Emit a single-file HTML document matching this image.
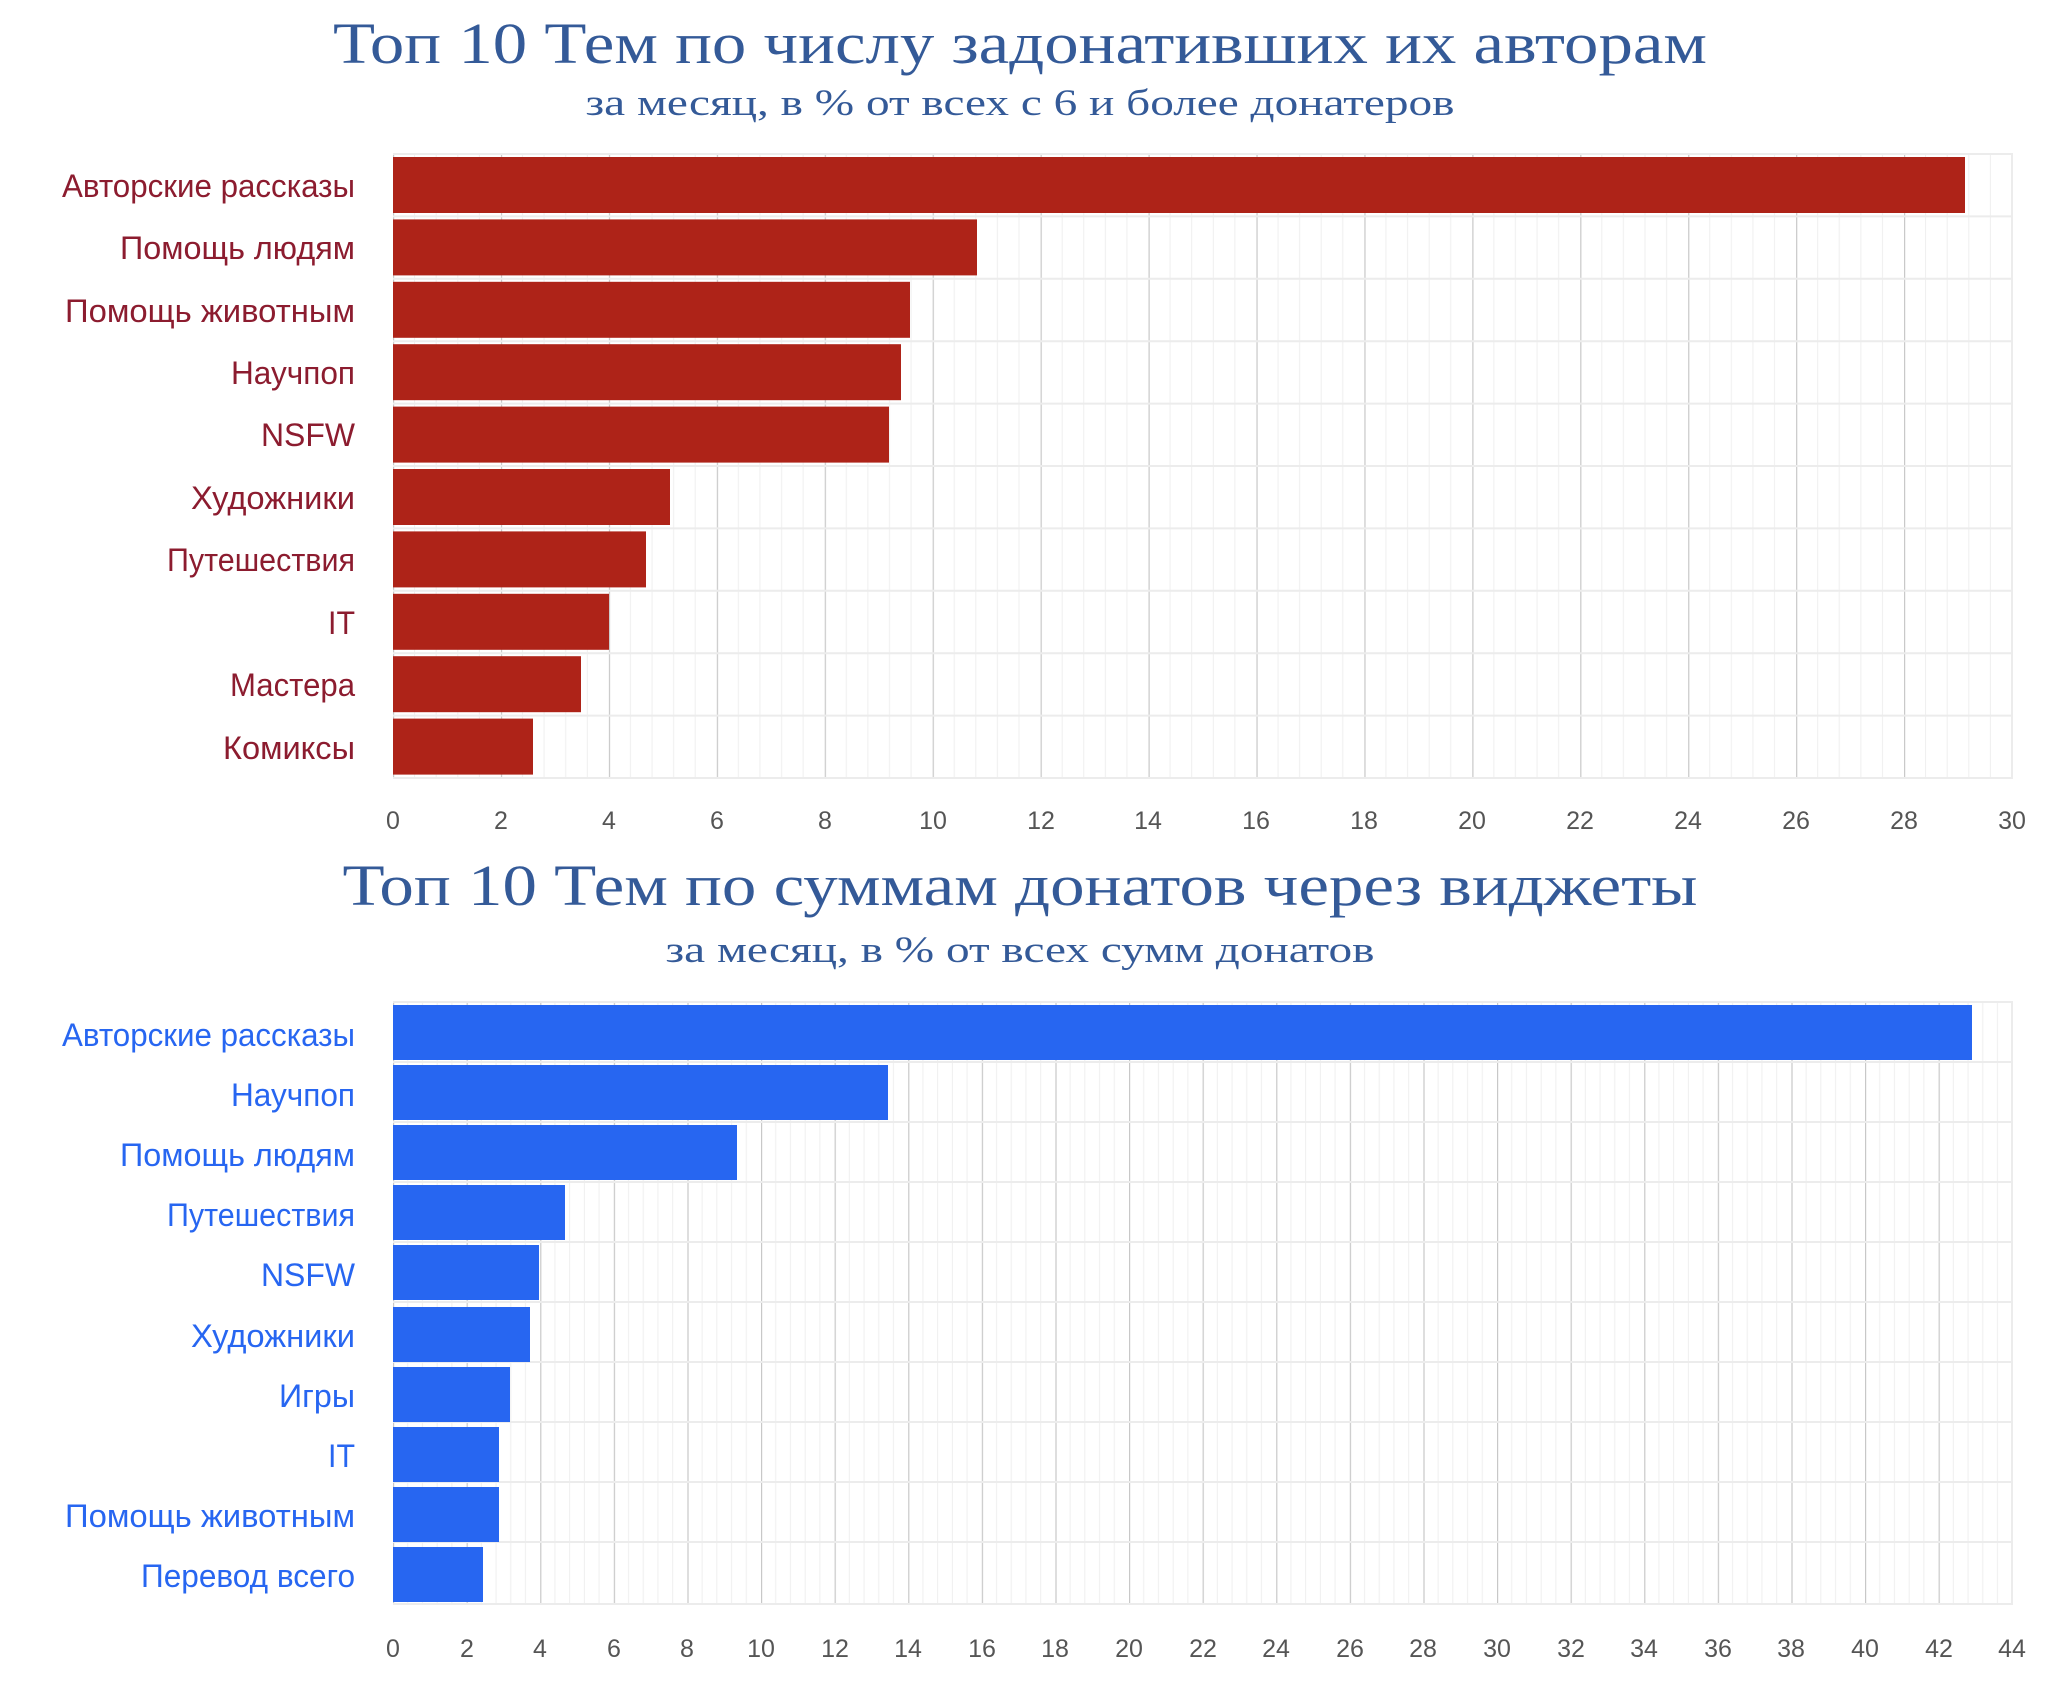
<!DOCTYPE html>
<html><head><meta charset="utf-8"><style>
html,body{margin:0;padding:0;background:#fff;}
svg{display:block}
.t{font-family:"Liberation Serif",serif;fill:#345a98}
.l{font-family:"Liberation Sans",sans-serif;font-size:32px}
.k{font-family:"Liberation Sans",sans-serif;font-size:25px;fill:#555}
</style></head><body>
<svg width="2048" height="1687" viewBox="0 0 2048 1687" xmlns="http://www.w3.org/2000/svg">
<defs>
<pattern id="g1" x="393" y="0" width="107.93" height="62.4" patternUnits="userSpaceOnUse">
<line x1="21.59" y1="0" x2="21.59" y2="62.4" stroke="#efefef" stroke-width="1"/>
<line x1="43.17" y1="0" x2="43.17" y2="62.4" stroke="#efefef" stroke-width="1"/>
<line x1="64.76" y1="0" x2="64.76" y2="62.4" stroke="#efefef" stroke-width="1"/>
<line x1="86.35" y1="0" x2="86.35" y2="62.4" stroke="#efefef" stroke-width="1"/>
<line x1="0.5" y1="0" x2="0.5" y2="62.4" stroke="#c8c8c8" stroke-width="1.4"/>
</pattern>
<pattern id="g2" x="393" y="0" width="73.6" height="60" patternUnits="userSpaceOnUse">
<line x1="14.72" y1="0" x2="14.72" y2="60" stroke="#efefef" stroke-width="1"/>
<line x1="29.44" y1="0" x2="29.44" y2="60" stroke="#efefef" stroke-width="1"/>
<line x1="44.16" y1="0" x2="44.16" y2="60" stroke="#efefef" stroke-width="1"/>
<line x1="58.88" y1="0" x2="58.88" y2="60" stroke="#efefef" stroke-width="1"/>
<line x1="0.5" y1="0" x2="0.5" y2="60" stroke="#c8c8c8" stroke-width="1.4"/>
</pattern>
</defs>

<text class="t" x="1020" y="63" font-size="58" text-anchor="middle" textLength="1374" lengthAdjust="spacingAndGlyphs">Топ 10 Тем по числу задонативших их авторам</text>
<text class="t" x="1020" y="115" font-size="37" text-anchor="middle" textLength="869" lengthAdjust="spacingAndGlyphs">за месяц, в % от всех с 6 и более донатеров</text>

<rect x="393" y="154" width="1620" height="624" fill="url(#g1)"/>
<g stroke="#ececec" stroke-width="2">
<line x1="393" y1="154" x2="2013" y2="154"/><line x1="393" y1="216.4" x2="2013" y2="216.4"/><line x1="393" y1="278.8" x2="2013" y2="278.8"/><line x1="393" y1="341.2" x2="2013" y2="341.2"/><line x1="393" y1="403.6" x2="2013" y2="403.6"/><line x1="393" y1="466" x2="2013" y2="466"/><line x1="393" y1="528.4" x2="2013" y2="528.4"/><line x1="393" y1="590.8" x2="2013" y2="590.8"/><line x1="393" y1="653.2" x2="2013" y2="653.2"/><line x1="393" y1="715.6" x2="2013" y2="715.6"/><line x1="393" y1="778" x2="2013" y2="778"/>
<line x1="2012" y1="154" x2="2012" y2="778"/>
</g>
<g fill="#ae2318">
<rect x="393" y="157" width="1572" height="56"/>
<rect x="393" y="219.4" width="584" height="56"/>
<rect x="393" y="281.8" width="517" height="56"/>
<rect x="393" y="344.2" width="508" height="56"/>
<rect x="393" y="406.6" width="496" height="56"/>
<rect x="393" y="469" width="277" height="56"/>
<rect x="393" y="531.4" width="253" height="56"/>
<rect x="393" y="593.8" width="216" height="56"/>
<rect x="393" y="656.2" width="188" height="56"/>
<rect x="393" y="718.6" width="140" height="56"/>
</g>
<g class="l" fill="#8c1c2f" text-anchor="end">
<text x="355" y="197" textLength="293" lengthAdjust="spacingAndGlyphs">Авторские рассказы</text>
<text x="355" y="259" textLength="235" lengthAdjust="spacingAndGlyphs">Помощь людям</text>
<text x="355" y="322" textLength="290" lengthAdjust="spacingAndGlyphs">Помощь животным</text>
<text x="355" y="384" textLength="124" lengthAdjust="spacingAndGlyphs">Научпоп</text>
<text x="355" y="446" textLength="94" lengthAdjust="spacingAndGlyphs">NSFW</text>
<text x="355" y="509" textLength="164" lengthAdjust="spacingAndGlyphs">Художники</text>
<text x="355" y="571" textLength="188" lengthAdjust="spacingAndGlyphs">Путешествия</text>
<text x="355" y="634" textLength="27" lengthAdjust="spacingAndGlyphs">IT</text>
<text x="355" y="696" textLength="125" lengthAdjust="spacingAndGlyphs">Мастера</text>
<text x="355" y="759" textLength="132" lengthAdjust="spacingAndGlyphs">Комиксы</text>
</g>
<g class="k" text-anchor="middle">
<text x="393" y="829">0</text><text x="501" y="829">2</text><text x="609" y="829">4</text><text x="717" y="829">6</text><text x="825" y="829">8</text><text x="933" y="829">10</text><text x="1041" y="829">12</text><text x="1148" y="829">14</text><text x="1256" y="829">16</text><text x="1364" y="829">18</text><text x="1472" y="829">20</text><text x="1580" y="829">22</text><text x="1688" y="829">24</text><text x="1796" y="829">26</text><text x="1904" y="829">28</text><text x="2012" y="829">30</text>
</g>

<text class="t" x="1020" y="905" font-size="58" text-anchor="middle" textLength="1355" lengthAdjust="spacingAndGlyphs">Топ 10 Тем по суммам донатов через виджеты</text>
<text class="t" x="1020" y="962" font-size="37" text-anchor="middle" textLength="709" lengthAdjust="spacingAndGlyphs">за месяц, в % от всех сумм донатов</text>

<rect x="393" y="1002" width="1620" height="603" fill="url(#g2)"/>
<g stroke="#ececec" stroke-width="2">
<line x1="393" y1="1002" x2="2013" y2="1002"/><line x1="393" y1="1062" x2="2013" y2="1062"/><line x1="393" y1="1122" x2="2013" y2="1122"/><line x1="393" y1="1182" x2="2013" y2="1182"/><line x1="393" y1="1242" x2="2013" y2="1242"/><line x1="393" y1="1302" x2="2013" y2="1302"/><line x1="393" y1="1362" x2="2013" y2="1362"/><line x1="393" y1="1422" x2="2013" y2="1422"/><line x1="393" y1="1482" x2="2013" y2="1482"/><line x1="393" y1="1542" x2="2013" y2="1542"/><line x1="393" y1="1604" x2="2013" y2="1604"/>
<line x1="2012" y1="1002" x2="2012" y2="1605"/>
</g>
<g fill="#2766f1">
<rect x="393" y="1005" width="1579" height="55"/>
<rect x="393" y="1065" width="495" height="55"/>
<rect x="393" y="1125" width="344" height="55"/>
<rect x="393" y="1185" width="172" height="55"/>
<rect x="393" y="1245" width="146" height="55"/>
<rect x="393" y="1307" width="137" height="55"/>
<rect x="393" y="1367" width="117" height="55"/>
<rect x="393" y="1427" width="106" height="55"/>
<rect x="393" y="1487" width="106" height="55"/>
<rect x="393" y="1547" width="90" height="55"/>
</g>
<g class="l" fill="#2766f1" text-anchor="end">
<text x="355" y="1046" textLength="293" lengthAdjust="spacingAndGlyphs">Авторские рассказы</text>
<text x="355" y="1106" textLength="124" lengthAdjust="spacingAndGlyphs">Научпоп</text>
<text x="355" y="1166" textLength="235" lengthAdjust="spacingAndGlyphs">Помощь людям</text>
<text x="355" y="1226" textLength="188" lengthAdjust="spacingAndGlyphs">Путешествия</text>
<text x="355" y="1286" textLength="94" lengthAdjust="spacingAndGlyphs">NSFW</text>
<text x="355" y="1347" textLength="164" lengthAdjust="spacingAndGlyphs">Художники</text>
<text x="355" y="1407" textLength="76" lengthAdjust="spacingAndGlyphs">Игры</text>
<text x="355" y="1467" textLength="27" lengthAdjust="spacingAndGlyphs">IT</text>
<text x="355" y="1527" textLength="290" lengthAdjust="spacingAndGlyphs">Помощь животным</text>
<text x="355" y="1587" textLength="214" lengthAdjust="spacingAndGlyphs">Перевод всего</text>
</g>
<g class="k" text-anchor="middle">
<text x="393" y="1657">0</text><text x="467" y="1657">2</text><text x="540" y="1657">4</text><text x="614" y="1657">6</text><text x="687" y="1657">8</text><text x="761" y="1657">10</text><text x="835" y="1657">12</text><text x="908" y="1657">14</text><text x="982" y="1657">16</text><text x="1055" y="1657">18</text><text x="1129" y="1657">20</text><text x="1203" y="1657">22</text><text x="1276" y="1657">24</text><text x="1350" y="1657">26</text><text x="1423" y="1657">28</text><text x="1497" y="1657">30</text><text x="1571" y="1657">32</text><text x="1644" y="1657">34</text><text x="1718" y="1657">36</text><text x="1791" y="1657">38</text><text x="1865" y="1657">40</text><text x="1939" y="1657">42</text><text x="2012" y="1657">44</text>
</g>
</svg>
</body></html>
